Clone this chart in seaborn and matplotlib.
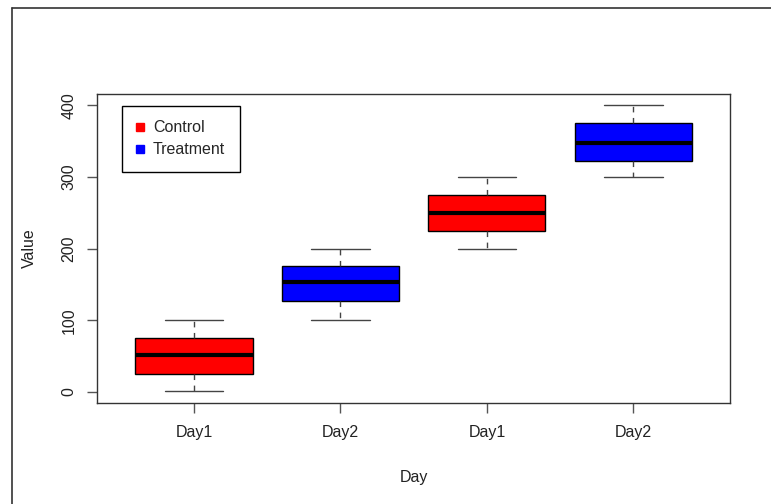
import matplotlib
matplotlib.use("Agg")
import matplotlib.pyplot as plt
from matplotlib.lines import Line2D
import seaborn as sns
import pandas as pd

# one entry per box, left to right
box_ids = ["b1", "b2", "b3", "b4"]
day_labels = ["Day1", "Day2", "Day1", "Day2"]
groups = ["Control", "Treatment", "Control", "Treatment"]
# min, Q1, median, Q3, max
box_values = [
    [1, 25, 51, 75, 100],
    [100, 127, 154, 176, 200],
    [200, 225, 250, 275, 300],
    [300, 323, 348, 375, 400],
]
group_colors = {"Control": "red", "Treatment": "blue"}

rows = []
for bid, grp, vals in zip(box_ids, groups, box_values):
    for v in vals:
        rows.append({"box": bid, "group": grp, "value": v})
df = pd.DataFrame(rows)

sns.set_style("ticks")
plt.rcParams["font.family"] = ["Liberation Sans", "DejaVu Sans"]

fig = plt.figure(figsize=(7.71, 5.04), dpi=100)
ax = fig.add_axes([97.3 / 771, 1 - 402.7 / 504, (730 - 97.3) / 771, (402.7 - 94) / 504])

sns.boxplot(data=df, x="box", y="value", hue="group", order=box_ids,
            palette=group_colors, saturation=1, dodge=False, width=0.8, whis=1.5,
            linecolor="black", linewidth=1, legend=False, ax=ax,
            medianprops=dict(color="black", linewidth=3),
            whiskerprops=dict(color="#444444", linestyle=(0, (4, 4))),
            capprops=dict(color="#444444"))

ax.set_xlim(-0.66, 3.66)
ax.set_ylim(-15, 416)
ax.set_yticks([0, 100, 200, 300, 400])
ax.set_xticks(range(len(box_ids)))
ax.set_xticklabels(day_labels)
for lab in ax.get_yticklabels():
    lab.set_rotation(90)
    lab.set_va("center")

for s in ax.spines.values():
    s.set_visible(True)
    s.set_color("#333333")
    s.set_linewidth(1)
ax.tick_params(axis="both", length=7, width=1, color="#555555",
               labelsize=11.5, labelcolor="#222222")
ax.tick_params(axis="x", pad=9)
ax.tick_params(axis="y", pad=8)

ax.set_xlabel("Day", fontsize=11.5, color="#222222", labelpad=22)
ax.set_ylabel("Value", fontsize=11.5, color="#222222", labelpad=18)

handles = [Line2D([], [], marker="s", linestyle="", markersize=6,
                  color=group_colors[g]) for g in ["Control", "Treatment"]]
leg = ax.legend(handles, ["Control", "Treatment"], loc="upper left",
                bbox_to_anchor=(0.039, 0.962), fontsize=11.5, frameon=True,
                fancybox=False, edgecolor="black", framealpha=1,
                handletextpad=0.65, labelspacing=0.45, borderpad=0.9,
                handlelength=0.4, borderaxespad=0)
leg.get_frame().set_linewidth(1)

# window frame on the left and top edges
fig.add_artist(Line2D([12 / 771, 12 / 771], [0, 1 - 8 / 504],
                      transform=fig.transFigure, color="#333333", lw=1.2))
fig.add_artist(Line2D([12 / 771, 1], [1 - 8 / 504, 1 - 8 / 504],
                      transform=fig.transFigure, color="#333333", lw=1.2))

fig.savefig("out.png", dpi=100)
